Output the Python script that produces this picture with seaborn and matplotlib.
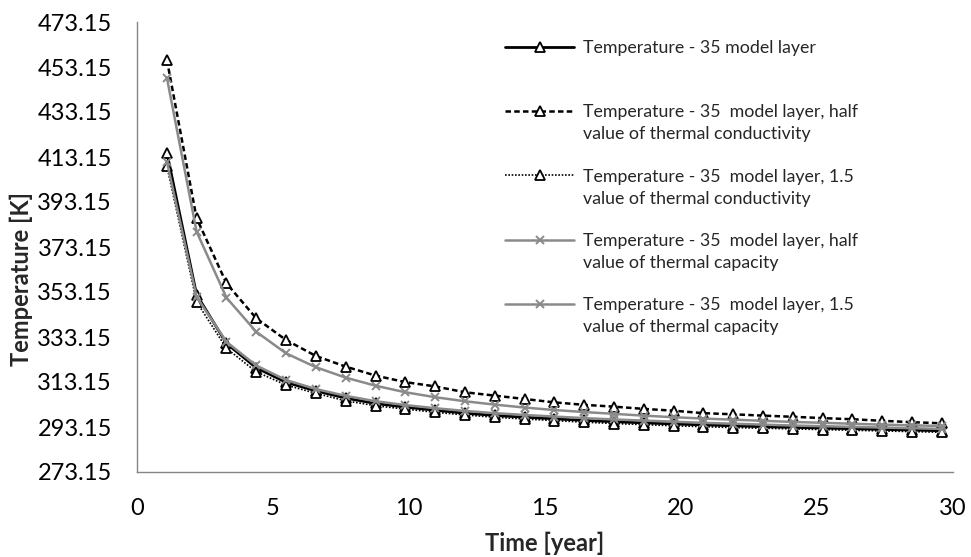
import matplotlib
matplotlib.use("Agg")
import matplotlib.pyplot as plt
from matplotlib.lines import Line2D
from matplotlib.transforms import IdentityTransform
import pandas as pd
import seaborn as sns

# Simulation output time steps [year]
time_years = [1.10, 2.19, 3.29, 4.38, 5.48, 6.58, 7.67, 8.77, 9.86, 10.96,
              12.05, 13.15, 14.25, 15.34, 16.44, 17.53, 18.63, 19.73, 20.82,
              21.92, 23.01, 24.11, 25.21, 26.30, 27.40, 28.49, 29.59]

# Temperature [K] for each model variant
temp_base = [415.0, 352.0, 330.3, 319.5, 313.0, 309.2, 306.0, 303.6, 302.0,
             300.6, 299.3, 298.3, 297.5, 296.8, 296.1, 295.5, 295.0, 294.5,
             294.1, 293.7, 293.3, 293.0, 292.7, 292.4, 292.1, 291.8, 291.5]
temp_half_conductivity = [456.3, 386.0, 357.0, 341.5, 331.8, 324.7, 320.0,
                          316.0, 313.1, 311.2, 308.6, 307.1, 305.6, 304.1,
                          303.0, 302.2, 301.2, 300.4, 299.3, 298.8, 298.2,
                          297.7, 297.1, 296.6, 295.9, 295.3, 294.8]
temp_1p5_conductivity = [409.0, 348.8, 328.1, 317.7, 311.8, 308.1, 304.8,
                         302.6, 301.1, 299.7, 298.5, 297.5, 296.7, 296.0,
                         295.3, 294.7, 294.2, 293.7, 293.3, 292.9, 292.6,
                         292.3, 292.0, 291.7, 291.4, 291.1, 290.8]
temp_half_capacity = [448.3, 380.0, 350.6, 335.5, 325.9, 319.7, 315.1, 311.5,
                      308.6, 306.4, 304.6, 303.1, 301.8, 300.7, 299.8, 299.0,
                      298.2, 297.5, 296.9, 296.4, 295.9, 295.4, 295.0, 294.6,
                      294.2, 293.9, 293.6]
temp_1p5_capacity = [411.0, 351.0, 331.0, 320.5, 314.0, 310.0, 307.0, 304.6,
                     302.9, 301.5, 300.3, 299.3, 298.5, 297.8, 297.1, 296.5,
                     296.0, 295.5, 295.0, 294.6, 294.2, 293.8, 293.5, 293.2,
                     292.9, 292.6, 292.3]

label_first_lines = [
    "Temperature - 35 model layer",
    "Temperature - 35  model layer, half",
    "Temperature - 35  model layer, 1.5",
    "Temperature - 35  model layer, half",
    "Temperature - 35  model layer, 1.5",
]
label_second_lines = [
    None,
    "value of thermal conductivity",
    "value of thermal conductivity",
    "value of thermal capacity",
    "value of thermal capacity",
]

y_ticks = [273.15, 293.15, 313.15, 333.15, 353.15, 373.15, 393.15, 413.15,
           433.15, 453.15, 473.15]
x_ticks = [0, 5, 10, 15, 20, 25, 30]

series_values = [temp_base, temp_half_conductivity, temp_1p5_conductivity,
                 temp_half_capacity, temp_1p5_capacity]

GRAY = "#8a8a8a"
AXIS_GRAY = "#868686"

tri = dict(marker="^", markersize=6.5, markerfacecolor="white",
           markeredgecolor="black", markeredgewidth=1.3)
cross = dict(marker="x", markersize=5.5, markeredgecolor=GRAY,
             markeredgewidth=1.4)
styles = [
    dict(color="black", linewidth=2.0, linestyle="-", **tri),
    dict(color="black", linewidth=1.8, linestyle=(0, (2.2, 1.3)), **tri),
    dict(color="black", linewidth=1.2, linestyle=(0, (1, 1)), **tri),
    dict(color=GRAY, linewidth=1.8, linestyle="-", **cross),
    dict(color=GRAY, linewidth=1.8, linestyle="-", **cross),
]

sns.set_style("white")
plt.rcParams["font.family"] = ["Lato", "DejaVu Sans"]
FS_AXIS = 17.0
FS_LEG = 12.8

fig = plt.figure(figsize=(9.71, 5.57), dpi=100)
W, H = 971, 557
ax = fig.add_axes([137 / W, 1 - 472 / H, (953 - 137) / W, (472 - 22) / H])

for values, st in zip(series_values, styles):
    df = pd.DataFrame({"time": time_years, "temp": values})
    sns.lineplot(data=df, x="time", y="temp", ax=ax, errorbar=None,
                 legend=False, **st)

ax.set_xlim(0, 30)
ax.set_ylim(273.15, 473.15)
ax.set_xticks(x_ticks)
ax.set_xticklabels([str(v) for v in x_ticks])
ax.set_yticks(y_ticks)
ax.set_yticklabels([f"{v:.2f}" for v in y_ticks])
ax.tick_params(axis="both", labelsize=FS_AXIS, colors=AXIS_GRAY,
               labelcolor="black", length=5, width=1.0, direction="out")
ax.tick_params(axis="x", pad=14)
ax.tick_params(axis="y", pad=13)
for side in ("top", "right"):
    ax.spines[side].set_visible(False)
for side in ("left", "bottom"):
    ax.spines[side].set_color(AXIS_GRAY)
    ax.spines[side].set_linewidth(1.0)

ax.set_xlabel("Time [year]", fontsize=FS_AXIS, fontweight="bold", labelpad=9)
ax.set_ylabel("Temperature [K]", fontsize=FS_AXIS, fontweight="bold")
ax.yaxis.set_label_coords(33 / W, 0.5, transform=fig.transFigure)

# Legend holds the first line of every entry; continuation lines sit below
handles = [Line2D([], [], **st) for st in styles]
leg = fig.legend(handles, label_first_lines, loc="upper left",
                 bbox_to_anchor=(505 / W, 1 - 40 / H), frameon=False,
                 fontsize=FS_LEG, handlelength=3.9, handletextpad=0.5,
                 labelspacing=2.72, borderpad=0, borderaxespad=0,
                 numpoints=1)

fig.canvas.draw()
renderer = fig.canvas.get_renderer()
for txt, second in zip(leg.get_texts(), label_second_lines):
    if second is None:
        continue
    bb = txt.get_window_extent(renderer)
    fig.text(bb.x0, bb.y0 - 22, second, fontsize=FS_LEG, ha="left",
             va="bottom", transform=IdentityTransform())

fig.savefig("out.png", dpi=100)
